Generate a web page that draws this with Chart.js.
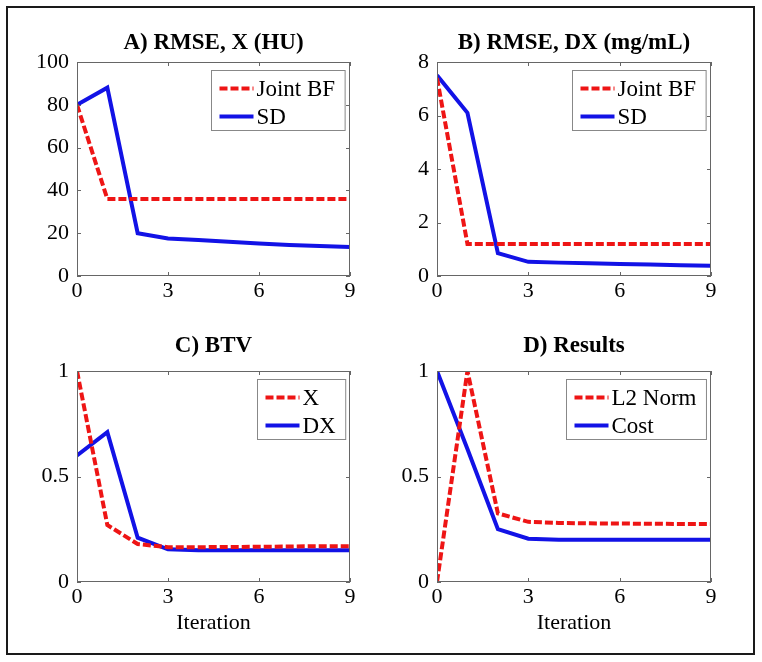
<!DOCTYPE html>
<html>
<head>
<meta charset="utf-8">
<script src="https://cdn.jsdelivr.net/npm/chart.js@4"></script>
<style>
    body { margin: 0; background: #fff; }
    #fig { position: relative; width: 762px; height: 662px; background: #fff; }
    #frame { position: absolute; left: 6px; top: 6px; width: 749px; height: 649px;
             border: 2px solid #1a1a1a; box-sizing: border-box; }
    canvas { position: absolute; }
</style>
</head>
<body>
<div id="fig">
    <div id="frame"></div>
    <canvas id="chart-a" width="381" height="331" style="left:0;top:0"></canvas>
    <canvas id="chart-b" width="381" height="331" style="left:381px;top:0"></canvas>
    <canvas id="chart-c" width="381" height="331" style="left:0;top:331px"></canvas>
    <canvas id="chart-d" width="381" height="331" style="left:381px;top:331px"></canvas>
</div>
<script>
// ==================== DATOS ====================

const iterations = [0, 1, 2, 3, 4, 5, 6, 7, 8, 9];

// A) RMSE, X (HU)
const rmseXJoint = [80, 36, 36, 36, 36, 36, 36, 36, 36, 36];
const rmseXSD    = [80, 88, 20, 17.5, 16.8, 16, 15.2, 14.5, 14, 13.5];

// B) RMSE, DX (mg/mL)
const rmseDXJoint = [7.4, 1.2, 1.2, 1.2, 1.2, 1.2, 1.2, 1.2, 1.2, 1.2];
const rmseDXSD    = [7.5, 6.1, 0.85, 0.53, 0.5, 0.48, 0.45, 0.43, 0.4, 0.38];

// C) BTV
const btvX  = [1.0, 0.27, 0.18, 0.165, 0.165, 0.166, 0.167, 0.168, 0.17, 0.17];
const btvDX = [0.6, 0.71, 0.21, 0.155, 0.15, 0.15, 0.15, 0.15, 0.15, 0.15];

// D) Results
const l2Norm = [0, 1.0, 0.325, 0.285, 0.28, 0.278, 0.277, 0.276, 0.275, 0.275];
const cost   = [1.0, 0.63, 0.25, 0.205, 0.2, 0.2, 0.2, 0.2, 0.2, 0.2];

const RED  = '#ee1515';
const BLUE = '#1212e6';
const SERIF = "'Liberation Serif', 'Times New Roman', serif";

Chart.defaults.font.family = SERIF;
Chart.defaults.color = '#000';

// ── Plugin: marco estilo MATLAB + ticks internos + leyenda en caja ──

const matlabAxes = {
    id: 'matlabAxes',
    afterDatasetsDraw(chart) {
        const { ctx, chartArea: a, scales: { x, y } } = chart;
        ctx.save();
        ctx.strokeStyle = '#666';
        ctx.lineWidth = 1;
        ctx.strokeRect(a.left + 0.5, a.top + 0.5, a.right - a.left - 1, a.bottom - a.top - 1);

        const tl = 4;
        ctx.beginPath();
        x.ticks.forEach(t => {
            const px = Math.round(x.getPixelForValue(t.value)) + 0.5;
            ctx.moveTo(px, a.bottom); ctx.lineTo(px, a.bottom - tl);
            ctx.moveTo(px, a.top);    ctx.lineTo(px, a.top + tl);
        });
        y.ticks.forEach(t => {
            const py = Math.round(y.getPixelForValue(t.value)) + 0.5;
            ctx.moveTo(a.left, py);  ctx.lineTo(a.left + tl, py);
            ctx.moveTo(a.right, py); ctx.lineTo(a.right - tl, py);
        });
        ctx.stroke();

        // Leyenda
        ctx.font = '23px ' + SERIF;
        const sets = chart.data.datasets;
        const textW = Math.max(...sets.map(d => ctx.measureText(d.label).width));
        const w = 45 + textW + 10;
        const h = 60;
        const bx = Math.round(a.right - 5 - w) + 0.5;
        const by = Math.round(a.top + 8) + 0.5;
        ctx.fillStyle = '#fff';
        ctx.fillRect(bx, by, w, h);
        ctx.strokeStyle = '#888';
        ctx.strokeRect(bx, by, w, h);

        sets.forEach((d, i) => {
            const cy = by + 18 + i * 28;
            ctx.beginPath();
            ctx.strokeStyle = d.borderColor;
            ctx.lineWidth = d.borderWidth;
            ctx.setLineDash(d.borderDash || []);
            ctx.moveTo(bx + 8, cy);
            ctx.lineTo(bx + 42, cy);
            ctx.stroke();
            ctx.setLineDash([]);
            ctx.fillStyle = '#000';
            ctx.textBaseline = 'middle';
            ctx.textAlign = 'left';
            ctx.fillText(d.label, bx + 45, cy + 1);
        });
        ctx.restore();
    }
};

// ==================== PANELES ====================

function crearPanel(id, p) {
    const W = 381, H = 331;
    const pts = vals => iterations.map((it, i) => ({ x: it, y: vals[i] }));
    const titleCenter = p.titleCenter;
    const lh = 23 * 1.2;

    return new Chart(document.getElementById(id), {
        type: 'line',
        data: {
            datasets: [
                {
                    label: p.labels[0],
                    data: pts(p.series[0]),
                    borderColor: RED,
                    borderWidth: 4,
                    borderDash: [8, 3],
                    pointRadius: 0,
                    tension: 0,
                },
                {
                    label: p.labels[1],
                    data: pts(p.series[1]),
                    borderColor: BLUE,
                    borderWidth: 4,
                    pointRadius: 0,
                    tension: 0,
                }
            ]
        },
        plugins: [matlabAxes],
        options: {
            responsive: false,
            animation: false,
            layout: { padding: { top: 0, left: 0, bottom: 0, right: W - p.area.right } },
            plugins: {
                legend: { display: false },
                tooltip: { enabled: false },
                title: {
                    display: true,
                    fullSize: false,
                    text: p.title,
                    color: '#000',
                    font: { family: SERIF, size: 23, weight: 'bold' },
                    padding: { top: titleCenter - lh / 2, bottom: p.area.top - titleCenter - lh / 2 }
                }
            },
            scales: {
                x: {
                    type: 'linear',
                    min: 0, max: 9,
                    ticks: { stepSize: 3, padding: 2, font: { size: 22 }, color: '#000', maxRotation: 0 },
                    grid: { drawOnChartArea: false, drawTicks: false },
                    border: { display: false },
                    title: {
                        display: !!p.xTitle,
                        text: p.xTitle || '',
                        color: '#000',
                        font: { size: 22 },
                        padding: { top: 0, bottom: 26 }
                    },
                    afterFit: s => { s.height = H - p.area.bottom; s.paddingLeft = 0; s.paddingRight = 0; }
                },
                y: {
                    min: 0, max: p.yMax,
                    ticks: {
                        stepSize: p.yStep, padding: 8, font: { size: 22 }, color: '#000',
                        callback: v => String(v)
                    },
                    grid: { drawOnChartArea: false, drawTicks: false },
                    border: { display: false },
                    afterFit: s => { s.width = p.area.left; s.paddingTop = 0; s.paddingBottom = 0; }
                }
            }
        }
    });
}

crearPanel('chart-a', {
    title: 'A) RMSE, X (HU)', titleCenter: 43,
    labels: ['Joint BF', 'SD'], series: [rmseXJoint, rmseXSD],
    yMax: 100, yStep: 20,
    area: { left: 77, right: 350, top: 62, bottom: 276 }
});

crearPanel('chart-b', {
    title: 'B) RMSE, DX (mg/mL)', titleCenter: 43,
    labels: ['Joint BF', 'SD'], series: [rmseDXJoint, rmseDXSD],
    yMax: 8, yStep: 2,
    area: { left: 56, right: 330, top: 62, bottom: 276 }
});

crearPanel('chart-c', {
    title: 'C) BTV', titleCenter: 15,
    labels: ['X', 'DX'], series: [btvX, btvDX],
    yMax: 1, yStep: 0.5, xTitle: 'Iteration',
    area: { left: 77, right: 350, top: 40, bottom: 251 }
});

crearPanel('chart-d', {
    title: 'D) Results', titleCenter: 15,
    labels: ['L2 Norm', 'Cost'], series: [l2Norm, cost],
    yMax: 1, yStep: 0.5, xTitle: 'Iteration',
    area: { left: 56, right: 330, top: 40, bottom: 251 }
});
</script>
</body>
</html>
